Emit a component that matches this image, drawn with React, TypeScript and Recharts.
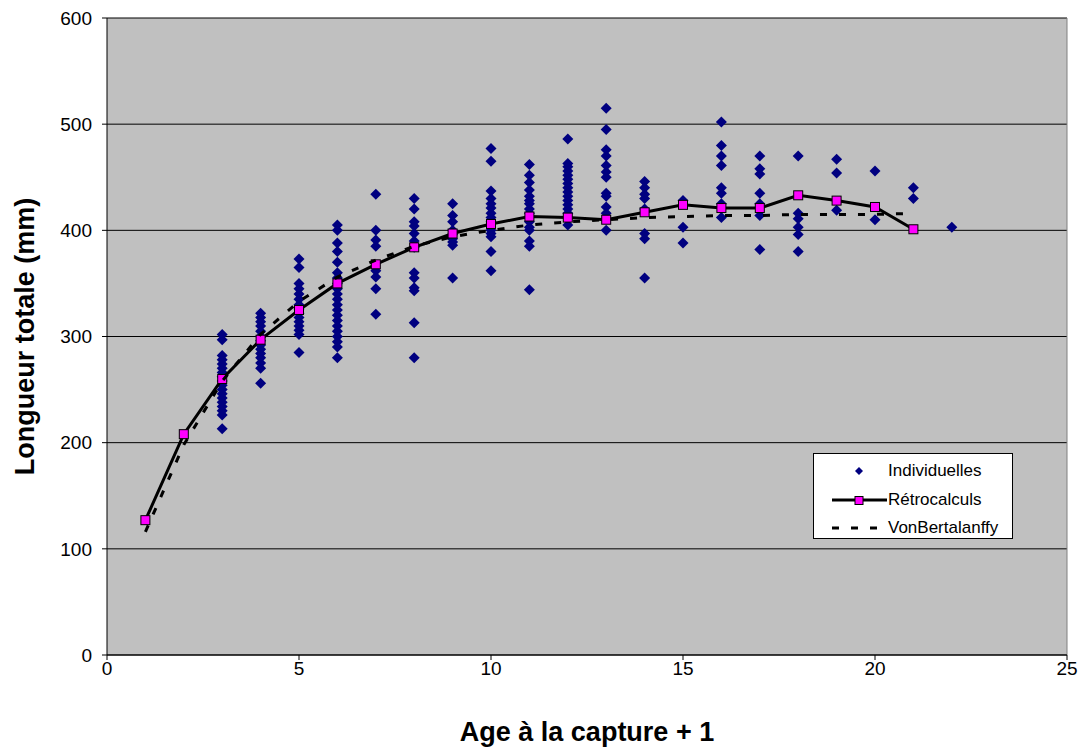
import { ScatterChart, Scatter, XAxis, YAxis, CartesianGrid, Legend, ReferenceLine, Label } from 'recharts';

// ages of the individual fish (x) and the lengths read at each age (mm)
const indivAges = [3, 4, 5, 6, 7, 8, 9, 10, 11, 12, 13, 14, 15, 16, 17, 18, 19, 20, 21, 22];
const indivLengths = [
  [302, 297, 282, 278, 274, 270, 266, 262, 258, 254, 250, 246, 242, 238, 234, 230, 226, 213],
  [322, 318, 314, 310, 305, 300, 296, 292, 288, 284, 280, 275, 270, 256],
  [373, 365, 350, 345, 340, 335, 330, 326, 322, 318, 314, 310, 306, 302, 285],
  [405, 400, 388, 380, 370, 360, 355, 350, 345, 340, 335, 330, 325, 320, 315, 310, 305, 300, 295, 290, 280],
  [434, 400, 391, 385, 362, 356, 345, 321],
  [430, 420, 408, 404, 397, 390, 384, 360, 355, 346, 343, 313, 280],
  [425, 414, 408, 400, 396, 392, 389, 386, 355],
  [477, 465, 437, 430, 425, 421, 416, 412, 408, 400, 397, 394, 380, 362],
  [462, 452, 445, 438, 432, 428, 425, 420, 416, 408, 403, 400, 390, 385, 344],
  [486, 463, 460, 456, 452, 448, 444, 440, 436, 432, 428, 424, 420, 416, 412, 405],
  [515, 495, 476, 470, 461, 455, 450, 435, 432, 422, 416, 400],
  [446, 440, 434, 430, 420, 397, 392, 355],
  [428, 403, 388],
  [502, 480, 470, 461, 440, 435, 425, 412],
  [470, 458, 453, 435, 425, 414, 382],
  [470, 416, 411, 403, 396, 380],
  [467, 454, 419],
  [456, 410],
  [440, 430],
  [403],
];

const curveAges = [1, 2, 3, 4, 5, 6, 7, 8, 9, 10, 11, 12, 13, 14, 15, 16, 17, 18, 19, 20, 21];
const retroLengths = [127, 208, 260, 297, 325, 350, 368, 384, 397, 406, 413, 412, 410, 417, 424, 421, 421, 433, 428, 422, 401];
const vbLengths = [116, 198, 258, 302, 333, 356, 372, 385, 394, 400, 405, 408, 410, 412, 413, 414, 414, 415, 415, 415, 416];

const xTicks = [0, 5, 10, 15, 20, 25];
const yTicks = [0, 100, 200, 300, 400, 500, 600];

const indivData = indivAges.flatMap((age, i) => indivLengths[i].map((y) => ({ x: age, y })));
const retroData = curveAges.map((x, i) => ({ x, y: retroLengths[i] }));
const vbData = curveAges.map((x, i) => ({ x, y: vbLengths[i] }));

const FONT = '"Liberation Sans", Arial, sans-serif';

function Diamond(props: any) {
  const { cx, cy } = props;
  const r = 5.5;
  return <polygon points={`${cx},${cy - r} ${cx + r},${cy} ${cx},${cy + r} ${cx - r},${cy}`} fill="#000080" />;
}

function Square(props: any) {
  const { cx, cy } = props;
  return <rect x={cx - 4.5} y={cy - 4.5} width={9} height={9} fill="#FF00FF" stroke="#000" strokeWidth={1} />;
}

function NoMark() {
  return <g />;
}

function LegendBox() {
  const row = { display: 'flex', alignItems: 'center', height: 28.5 } as const;
  return (
    <div style={{ width: 200, height: 86, border: '1px solid #000', background: '#fff', boxSizing: 'border-box', paddingTop: 3, fontFamily: FONT, fontSize: 17, color: '#000' }}>
      <div style={row}>
        <svg width={74} height={20}>
          <polygon points="45,6 49,10 45,14 41,10" fill="#000080" />
        </svg>
        <span>Individuelles</span>
      </div>
      <div style={row}>
        <svg width={74} height={20}>
          <line x1={18} y1={10} x2={73} y2={10} stroke="#000" strokeWidth={3} />
          <rect x={41} y={6.5} width={8} height={8} fill="#FF00FF" stroke="#000" />
        </svg>
        <span>Rétrocalculs</span>
      </div>
      <div style={row}>
        <svg width={74} height={20}>
          <line x1={18} y1={10} x2={73} y2={10} stroke="#000" strokeWidth={3} strokeDasharray="7 12" />
        </svg>
        <span>VonBertalanffy</span>
      </div>
    </div>
  );
}

export default function App() {
  return (
    <div style={{ position: 'absolute', left: 0, top: 0, width: 1083, height: 747, background: '#fff', fontFamily: FONT }}>
      <ScatterChart width={1083} height={747} margin={{ top: 18, right: 16, left: 0, bottom: 0 }}>
        <CartesianGrid horizontal vertical={false} stroke="#000" fill="#C0C0C0" fillOpacity={1} />
        <XAxis
          type="number"
          dataKey="x"
          domain={[0, 25]}
          ticks={xTicks}
          height={92}
          stroke="#000"
          tickSize={5}
          tickMargin={2}
          tick={{ fill: '#000', fontSize: 19, fontFamily: FONT }}
        >
          <Label
            content={(p: any) => {
              const vb = p.viewBox;
              return (
                <text x={vb.x + vb.width / 2} y={732} textAnchor="middle" dominantBaseline="central" fontSize={27} fontWeight="bold" fontFamily={FONT} fill="#000">
                  Age à la capture + 1
                </text>
              );
            }}
          />
        </XAxis>
        <YAxis
          type="number"
          dataKey="y"
          domain={[0, 600]}
          ticks={yTicks}
          width={107}
          stroke="#000"
          tickSize={5}
          tickMargin={10}
          tick={{ fill: '#000', fontSize: 19, fontFamily: FONT }}
        >
          <Label
            content={(p: any) => {
              const vb = p.viewBox;
              const cy = vb.y + vb.height / 2;
              return (
                <text x={25} y={cy} transform={`rotate(-90, 25, ${cy})`} textAnchor="middle" dominantBaseline="central" fontSize={27} fontWeight="bold" fontFamily={FONT} fill="#000">
                  Longueur totale (mm)
                </text>
              );
            }}
          />
        </YAxis>
        <ReferenceLine x={25} stroke="#808080" />
        <Scatter name="Individuelles" data={indivData} shape={Diamond} isAnimationActive={false} />
        <Scatter
          name="Rétrocalculs"
          data={retroData}
          shape={Square}
          line={{ stroke: '#000', strokeWidth: 3 }}
          lineType="joint"
          isAnimationActive={false}
        />
        <Scatter
          name="VonBertalanffy"
          data={vbData}
          shape={NoMark}
          line={{ stroke: '#000', strokeWidth: 3, strokeDasharray: '7 12' }}
          lineType="joint"
          isAnimationActive={false}
        />
        <Legend
          verticalAlign="middle"
          align="center"
          content={() => <LegendBox />}
          wrapperStyle={{ left: 813, top: 453, width: 201, height: 87 }}
        />
      </ScatterChart>
    </div>
  );
}
